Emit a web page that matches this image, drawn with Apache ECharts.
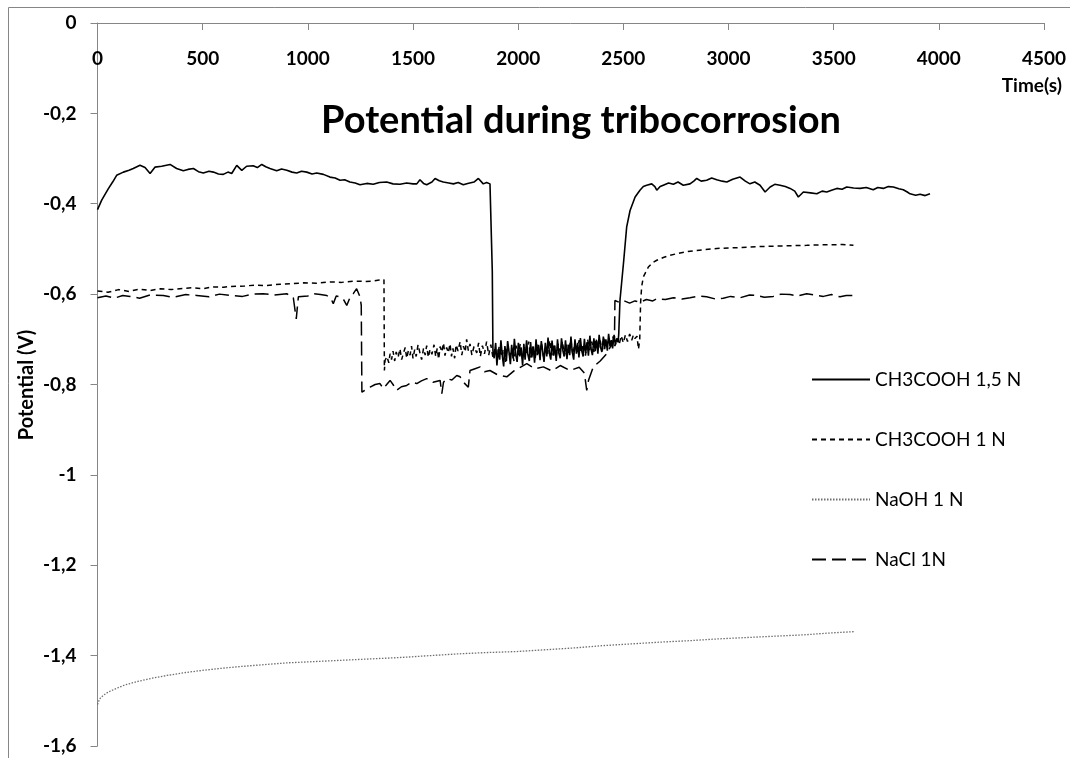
<!DOCTYPE html>
<html>
<head>
<meta charset="utf-8">
<script src="https://cdn.jsdelivr.net/npm/echarts@6/dist/echarts.min.js"></script>
<style>
html,body{margin:0;padding:0;background:#fff;}
#chart{width:1070px;height:758px;}
</style>
</head>
<body>
<div id="chart"></div>
<script>
// ---- data (time in s, potential in V) ----
const seriesNames = ['CH3COOH 1,5 N', 'CH3COOH 1 N', 'NaOH 1 N', 'NaCl 1N'];
const xTicks = [0, 500, 1000, 1500, 2000, 2500, 3000, 3500, 4000, 4500];
const yTicks = [0, -0.2, -0.4, -0.6, -0.8, -1, -1.2, -1.4, -1.6];

const acetic15 = [
[0,-0.413],[20,-0.392],[51,-0.367],[72,-0.352],[91,-0.337],[123,-0.330],[150,-0.326],[170,-0.322],[202,-0.315],[226,-0.320],[250,-0.333],[273,-0.319],[305,-0.317],[345,-0.313],[376,-0.322],[408,-0.327],[430,-0.324],[456,-0.322],[480,-0.329],[503,-0.332],[530,-0.328],[551,-0.330],[575,-0.334],[598,-0.335],[620,-0.330],[638,-0.333],[662,-0.315],[686,-0.326],[709,-0.317],[740,-0.316],[760,-0.320],[781,-0.313],[800,-0.318],[820,-0.322],[852,-0.327],[875,-0.323],[900,-0.326],[925,-0.330],[947,-0.332],[970,-0.328],[995,-0.330],[1020,-0.334],[1042,-0.332],[1074,-0.335],[1105,-0.341],[1130,-0.343],[1153,-0.348],[1175,-0.347],[1200,-0.352],[1225,-0.354],[1248,-0.358],[1280,-0.355],[1311,-0.357],[1340,-0.353],[1375,-0.352],[1405,-0.356],[1438,-0.357],[1470,-0.354],[1500,-0.356],[1518,-0.356],[1533,-0.347],[1550,-0.355],[1565,-0.358],[1590,-0.352],[1605,-0.344],[1625,-0.349],[1644,-0.352],[1670,-0.354],[1692,-0.356],[1715,-0.353],[1739,-0.358],[1760,-0.355],[1790,-0.352],[1811,-0.344],[1834,-0.356],[1850,-0.353],[1866,-0.356],[1874,-0.358],
[1877,-0.550],[1880,-0.725],
[1886,-0.742],[1893,-0.708],[1899,-0.758],[1905,-0.722],[1912,-0.745],[1918,-0.702],[1925,-0.738],[1931,-0.760],[1937,-0.715],[1944,-0.748],[1950,-0.704],[1957,-0.730],[1963,-0.755],[1969,-0.712],[1976,-0.742],[1982,-0.699],[1989,-0.735],[1995,-0.750],[2001,-0.708],[2008,-0.738],[2014,-0.718],[2021,-0.757],[2027,-0.710],[2033,-0.745],[2040,-0.702],[2046,-0.733],[2053,-0.748],[2059,-0.706],[2065,-0.740],[2072,-0.716],[2078,-0.752],[2085,-0.700],[2091,-0.735],[2097,-0.712],[2104,-0.746],[2110,-0.704],[2117,-0.728],[2123,-0.750],[2129,-0.708],[2136,-0.738],[2142,-0.696],[2149,-0.732],[2155,-0.745],[2161,-0.703],[2168,-0.736],[2174,-0.714],[2181,-0.748],[2187,-0.700],[2193,-0.730],[2200,-0.742],[2206,-0.698],[2213,-0.726],[2219,-0.738],[2225,-0.702],[2232,-0.744],[2238,-0.712],[2245,-0.735],[2251,-0.694],[2257,-0.728],[2264,-0.745],[2270,-0.700],[2277,-0.732],[2283,-0.708],[2289,-0.740],[2296,-0.697],[2302,-0.725],[2309,-0.738],[2315,-0.699],[2321,-0.730],[2328,-0.706],[2334,-0.736],[2341,-0.692],[2347,-0.722],[2353,-0.735],[2360,-0.698],[2366,-0.726],[2373,-0.703],[2379,-0.732],[2385,-0.690],[2392,-0.718],[2398,-0.728],[2405,-0.694],[2411,-0.722],[2417,-0.700],[2424,-0.725],[2430,-0.688],[2437,-0.715],[2443,-0.702],[2449,-0.720],[2456,-0.690],[2462,-0.712],[2469,-0.698],[2475,-0.706],[2478,-0.690],
[2484,-0.614],[2502,-0.525],[2516,-0.451],[2532,-0.415],[2556,-0.385],[2579,-0.370],[2595,-0.362],[2611,-0.359],[2635,-0.356],[2650,-0.362],[2659,-0.370],[2675,-0.362],[2690,-0.359],[2715,-0.354],[2738,-0.357],[2760,-0.352],[2785,-0.359],[2817,-0.356],[2835,-0.350],[2849,-0.344],[2870,-0.350],[2896,-0.348],[2920,-0.343],[2944,-0.347],[2970,-0.350],[2992,-0.352],[3020,-0.346],[3055,-0.341],[3080,-0.350],[3102,-0.356],[3125,-0.352],[3150,-0.359],[3174,-0.374],[3198,-0.363],[3220,-0.357],[3245,-0.359],[3270,-0.362],[3293,-0.366],[3315,-0.372],[3332,-0.385],[3356,-0.374],[3390,-0.376],[3420,-0.378],[3445,-0.372],[3467,-0.374],[3490,-0.370],[3515,-0.366],[3540,-0.368],[3562,-0.363],[3595,-0.365],[3626,-0.366],[3655,-0.364],[3688,-0.369],[3710,-0.364],[3736,-0.366],[3760,-0.362],[3784,-0.363],[3810,-0.367],[3831,-0.369],[3850,-0.374],[3863,-0.378],[3890,-0.381],[3911,-0.379],[3935,-0.382],[3958,-0.378]
];

const acetic1 = [
[0,-0.593],[50,-0.596],[100,-0.590],[150,-0.594],[200,-0.589],[250,-0.592],[300,-0.588],[350,-0.590],[392,-0.588],[450,-0.586],[500,-0.588],[550,-0.584],[600,-0.585],[630,-0.583],[700,-0.582],[750,-0.580],[800,-0.581],[868,-0.578],[920,-0.577],[980,-0.575],[1040,-0.576],[1106,-0.573],[1160,-0.574],[1220,-0.571],[1270,-0.572],[1311,-0.571],[1340,-0.569],[1362,-0.568],
[1364,-0.769],[1367,-0.747],
[1376,-0.738],[1385,-0.752],[1391,-0.732],[1398,-0.745],[1405,-0.726],[1413,-0.748],[1420,-0.728],[1429,-0.740],[1438,-0.721],[1446,-0.745],[1455,-0.730],[1463,-0.718],[1470,-0.742],[1478,-0.725],[1486,-0.735],[1493,-0.715],[1500,-0.742],[1508,-0.723],[1515,-0.738],[1524,-0.712],[1533,-0.730],[1541,-0.745],[1550,-0.720],[1558,-0.735],[1565,-0.714],[1573,-0.740],[1581,-0.722],[1590,-0.733],[1600,-0.712],[1608,-0.738],[1615,-0.720],[1622,-0.744],[1629,-0.716],[1637,-0.728],[1645,-0.708],[1652,-0.736],[1660,-0.718],[1668,-0.730],[1676,-0.710],[1683,-0.738],[1690,-0.720],[1698,-0.742],[1705,-0.712],[1714,-0.726],[1724,-0.705],[1732,-0.735],[1740,-0.715],[1748,-0.728],[1755,-0.700],[1763,-0.725],[1771,-0.710],[1780,-0.735],[1790,-0.716],[1803,-0.730],[1812,-0.708],[1820,-0.738],[1830,-0.714],[1840,-0.732],[1850,-0.705],[1860,-0.735],[1870,-0.712],[1880,-0.740],[1890,-0.718],[1900,-0.745],[1910,-0.715],[1920,-0.738],[1930,-0.722],[1940,-0.750],[1950,-0.712],[1960,-0.736],[1970,-0.720],[1980,-0.748],[1990,-0.714],[2000,-0.735],[2010,-0.710],[2020,-0.742],[2030,-0.718],[2040,-0.730],[2050,-0.705],[2060,-0.740],[2070,-0.716],[2080,-0.745],[2090,-0.712],[2100,-0.733],[2110,-0.708],[2120,-0.738],[2130,-0.718],[2140,-0.732],[2150,-0.702],[2160,-0.735],[2170,-0.714],[2180,-0.742],[2190,-0.710],[2200,-0.728],[2210,-0.704],[2220,-0.736],[2230,-0.712],[2240,-0.730],[2250,-0.700],[2260,-0.734],[2270,-0.708],[2280,-0.728],[2290,-0.702],[2300,-0.730],[2310,-0.710],[2320,-0.736],[2330,-0.700],[2340,-0.724],[2350,-0.705],[2360,-0.728],[2370,-0.698],[2380,-0.722],[2390,-0.703],[2400,-0.725],[2410,-0.696],[2420,-0.718],[2430,-0.700],[2440,-0.720],[2450,-0.694],[2460,-0.715],[2470,-0.698],[2480,-0.712],[2490,-0.692],[2500,-0.708],[2510,-0.690],[2520,-0.705],[2530,-0.688],[2540,-0.702],[2548,-0.690],[2555,-0.698],[2565,-0.693],[2572,-0.722],[2578,-0.700],
[2582,-0.620],[2587,-0.584],[2595,-0.562],[2619,-0.540],[2640,-0.530],[2659,-0.525],[2690,-0.519],[2722,-0.514],[2770,-0.509],[2817,-0.505],[2880,-0.502],[2944,-0.499],[3000,-0.498],[3055,-0.497],[3130,-0.495],[3213,-0.494],[3290,-0.493],[3372,-0.492],[3430,-0.491],[3483,-0.491],[3540,-0.490],[3594,-0.492]
];

const naoh1 = [
[0,-1.508],[10,-1.496],[27,-1.488],[50,-1.481],[82,-1.474],[130,-1.465],[192,-1.457],[260,-1.450],[328,-1.444],[410,-1.438],[492,-1.433],[590,-1.428],[683,-1.424],[790,-1.420],[901,-1.416],[1040,-1.413],[1174,-1.410],[1310,-1.407],[1447,-1.404],[1580,-1.400],[1720,-1.396],[1860,-1.393],[1993,-1.391],[2130,-1.387],[2266,-1.383],[2400,-1.378],[2539,-1.374],[2680,-1.370],[2812,-1.367],[2950,-1.363],[3085,-1.360],[3220,-1.357],[3358,-1.354],[3480,-1.350],[3595,-1.347]
];

const nacl1 = [
[0,-0.608],[40,-0.604],[80,-0.609],[120,-0.603],[155,-0.605],[200,-0.609],[250,-0.602],[313,-0.603],[360,-0.607],[420,-0.601],[472,-0.603],[530,-0.606],[580,-0.600],[630,-0.603],[690,-0.605],[740,-0.600],[788,-0.599],[840,-0.602],[900,-0.599],[931,-0.608],[945,-0.655],[950,-0.630],[955,-0.606],[963,-0.603],[1000,-0.604],[1026,-0.599],[1060,-0.601],[1090,-0.603],[1110,-0.610],[1121,-0.621],[1135,-0.604],[1153,-0.606],[1170,-0.612],[1185,-0.625],[1200,-0.608],[1216,-0.599],[1232,-0.588],[1248,-0.606],[1254,-0.625],
[1257,-0.817],
[1264,-0.817],[1280,-0.810],[1296,-0.806],[1320,-0.800],[1343,-0.798],[1359,-0.809],[1375,-0.800],[1391,-0.791],[1405,-0.800],[1422,-0.813],[1445,-0.805],[1470,-0.802],[1495,-0.795],[1518,-0.798],[1540,-0.792],[1565,-0.787],[1595,-0.795],[1629,-0.791],[1637,-0.820],[1645,-0.795],[1660,-0.787],[1685,-0.790],[1708,-0.780],[1724,-0.783],[1740,-0.795],[1763,-0.806],[1771,-0.769],[1795,-0.765],[1819,-0.761],[1840,-0.772],[1866,-0.769],[1900,-0.778],[1946,-0.783],[1980,-0.770],[2010,-0.762],[2041,-0.754],[2080,-0.765],[2120,-0.761],[2160,-0.770],[2200,-0.758],[2247,-0.769],[2290,-0.762],[2315,-0.775],[2326,-0.813],[2335,-0.790],[2357,-0.761],[2390,-0.748],[2421,-0.732],[2440,-0.715],[2458,-0.695],
[2460,-0.614],[2480,-0.618],[2500,-0.614],[2530,-0.620],[2555,-0.615],[2579,-0.618],[2610,-0.612],[2640,-0.615],[2659,-0.610],[2700,-0.612],[2738,-0.608],[2780,-0.611],[2817,-0.608],[2860,-0.604],[2896,-0.606],[2940,-0.611],[2975,-0.609],[3010,-0.605],[3055,-0.608],[3100,-0.602],[3134,-0.603],[3170,-0.607],[3213,-0.605],[3250,-0.600],[3293,-0.601],[3330,-0.604],[3372,-0.599],[3410,-0.602],[3451,-0.605],[3490,-0.601],[3530,-0.606],[3560,-0.603],[3594,-0.603]
];

// ---- chart ----
const FONT = 'Lato, "Open Sans", sans-serif';
const chart = echarts.init(document.getElementById('chart'), null, {renderer: 'canvas'});

function fmtY(v) {
  const r = Math.round(v * 10) / 10;
  if (r === 0) return '0';
  return String(r).replace('.', ',');
}

chart.setOption({
  animation: false,
  backgroundColor: '#fff',
  grid: {left: 97.5, right: 26, top: 23, bottom: 12, containLabel: false, outerBoundsMode: 'none'},
  graphic: [
    {type: 'rect', shape: {x: 8.5, y: 7.5, width: 1200, height: 1000}, style: {fill: 'none', stroke: '#868686', lineWidth: 1}, silent: true, z: -1},
    {type: 'text', style: {x: 581, y: 121, text: 'Potential during tribocorrosion', font: 'bold 38px ' + FONT, fill: '#000', textAlign: 'center', textVerticalAlign: 'middle'}},
    {type: 'text', style: {x: 1062, y: 86, text: 'Time(s)', font: 'bold 19px ' + FONT, fill: '#000', textAlign: 'right', textVerticalAlign: 'middle'}},
    {type: 'text', x: 27, y: 385, rotation: Math.PI / 2, style: {x: 0, y: 0, text: 'Potential (V)', font: 'bold 20px ' + FONT, fill: '#000', textAlign: 'center', textVerticalAlign: 'middle'}}
  ],
  legend: {
    orient: 'vertical',
    left: 806,
    top: 365,
    itemWidth: 58,
    itemHeight: 14,
    itemGap: 41,
    data: seriesNames,
    itemStyle: {opacity: 0},
    textStyle: {fontFamily: FONT, fontSize: 19, color: '#000'}
  },
  xAxis: {
    type: 'value',
    position: 'top',
    min: xTicks[0],
    max: xTicks[xTicks.length - 1],
    interval: 500,
    axisLine: {show: true, onZero: false, lineStyle: {color: '#868686', width: 1}},
    axisTick: {show: true, inside: true, length: 7, lineStyle: {color: '#868686'}},
    axisLabel: {inside: true, margin: 26, fontFamily: FONT, fontSize: 19, fontWeight: 'bold', color: '#000', formatter: function (v) { return String(v); }},
    splitLine: {show: false}
  },
  yAxis: {
    type: 'value',
    min: yTicks[yTicks.length - 1],
    max: yTicks[0],
    interval: 0.2,
    axisLine: {show: true, lineStyle: {color: '#868686', width: 1}},
    axisTick: {show: true, inside: false, length: 7, lineStyle: {color: '#868686'}},
    axisLabel: {margin: 21, fontFamily: FONT, fontSize: 19, fontWeight: 'bold', color: '#000', formatter: fmtY},
    splitLine: {show: false}
  },
  series: [
    {name: seriesNames[0], type: 'line', data: acetic15, showSymbol: false, symbol: 'none',
     lineStyle: {color: '#000', width: 1.6, type: 'solid'}, itemStyle: {color: '#000'}},
    {name: seriesNames[1], type: 'line', data: acetic1, showSymbol: false, symbol: 'none',
     lineStyle: {color: '#000', width: 1.5, type: [5, 4]}, itemStyle: {color: '#000'}},
    {name: seriesNames[2], type: 'line', data: naoh1, showSymbol: false, symbol: 'none',
     lineStyle: {color: '#6f6f6f', width: 1.3, type: [1.5, 1.5]}, itemStyle: {color: '#6f6f6f'}},
    {name: seriesNames[3], type: 'line', data: nacl1, showSymbol: false, symbol: 'none',
     lineStyle: {color: '#000', width: 1.5, type: [14, 6]}, itemStyle: {color: '#000'}}
  ]
});
</script>
</body>
</html>
